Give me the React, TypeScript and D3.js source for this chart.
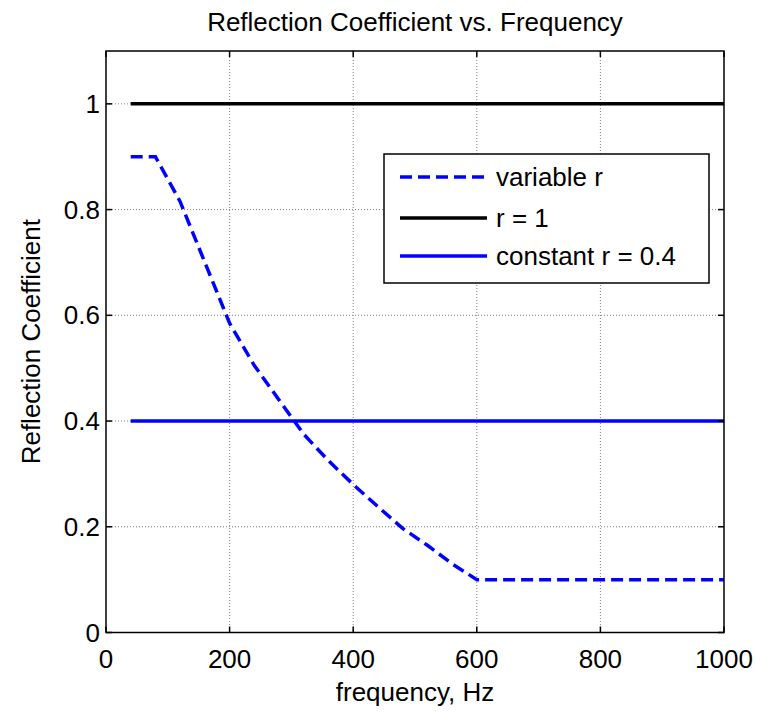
import React, { useEffect, useRef } from "react";
import * as d3 from "d3";

const freqs = [40, 80, 120, 160, 200, 240, 280, 320, 360, 400, 440, 480, 520, 560, 600, 640, 680, 720, 760, 800, 840, 880, 920, 960, 1000];
const variableR = [0.9, 0.9, 0.815, 0.70, 0.585, 0.505, 0.44, 0.375, 0.325, 0.28, 0.238, 0.197, 0.165, 0.13, 0.1, 0.1, 0.1, 0.1, 0.1, 0.1, 0.1, 0.1, 0.1, 0.1, 0.1];
const rOne = freqs.map(() => 1);
const constantR = freqs.map(() => 0.4);
const xTicks = [0, 200, 400, 600, 800, 1000];
const yTicks = [0, 0.2, 0.4, 0.6, 0.8, 1];
const legendLabels = ["variable r", "r = 1", "constant r = 0.4"];

const W = 757, H = 715;
const m = { left: 106, right: 724, top: 51, bottom: 632.5 };
const FONT = "'Liberation Sans', Arial, sans-serif";

export default function App() {
  const ref = useRef<SVGSVGElement>(null);
  useEffect(() => {
    const svg = d3.select(ref.current);
    svg.selectAll("*").remove();
    const x = d3.scaleLinear().domain([0, 1000]).range([m.left, m.right]);
    const y = d3.scaleLinear().domain([0, 1.1]).range([m.bottom, m.top]);

    svg.append("rect").attr("width", W).attr("height", H).attr("fill", "#fff");

    // grid
    const g = svg.append("g");
    xTicks.slice(1, -1).forEach((t) => {
      g.append("line").attr("x1", x(t)).attr("x2", x(t)).attr("y1", m.top).attr("y2", m.bottom)
        .attr("stroke", "#808080").attr("stroke-width", 1).attr("stroke-dasharray", "1,2");
    });
    yTicks.slice(1).forEach((t) => {
      g.append("line").attr("y1", y(t)).attr("y2", y(t)).attr("x1", m.left).attr("x2", m.right)
        .attr("stroke", "#808080").attr("stroke-width", 1).attr("stroke-dasharray", "1,2");
    });

    const line = d3.line<[number, number]>().x((d) => x(d[0])).y((d) => y(d[1]));
    const mk = (vals: number[]) => freqs.map((f, i) => [f, vals[i]] as [number, number]);

    svg.append("path").attr("d", line(mk(rOne))!).attr("fill", "none").attr("stroke", "#000").attr("stroke-width", 3.5);
    svg.append("path").attr("d", line(mk(constantR))!).attr("fill", "none").attr("stroke", "#0000ff").attr("stroke-width", 3.5);
    svg.append("path").attr("d", line(mk(variableR))!).attr("fill", "none").attr("stroke", "#0000ff").attr("stroke-width", 3.5)
      .attr("stroke-dasharray", "12,6");

    // axes box
    svg.append("rect").attr("x", m.left).attr("y", m.top).attr("width", m.right - m.left).attr("height", m.bottom - m.top)
      .attr("fill", "none").attr("stroke", "#000").attr("stroke-width", 1.5);

    // ticks
    const tl = 6;
    xTicks.forEach((t) => {
      svg.append("line").attr("x1", x(t)).attr("x2", x(t)).attr("y1", m.bottom).attr("y2", m.bottom - tl).attr("stroke", "#000").attr("stroke-width", 1.5);
      svg.append("line").attr("x1", x(t)).attr("x2", x(t)).attr("y1", m.top).attr("y2", m.top + tl).attr("stroke", "#000").attr("stroke-width", 1.5);
      svg.append("text").attr("x", x(t)).attr("y", 668).attr("text-anchor", "middle")
        .attr("font-family", FONT).attr("font-size", 26).text(String(t));
    });
    yTicks.forEach((t) => {
      svg.append("line").attr("y1", y(t)).attr("y2", y(t)).attr("x1", m.left).attr("x2", m.left + tl).attr("stroke", "#000").attr("stroke-width", 1.5);
      svg.append("line").attr("y1", y(t)).attr("y2", y(t)).attr("x1", m.right).attr("x2", m.right - tl).attr("stroke", "#000").attr("stroke-width", 1.5);
      svg.append("text").attr("x", 100).attr("y", y(t) + 9).attr("text-anchor", "end")
        .attr("font-family", FONT).attr("font-size", 26).text(String(t));
    });

    // labels
    svg.append("text").attr("x", (m.left + m.right) / 2).attr("y", 31).attr("text-anchor", "middle")
      .attr("font-family", FONT).attr("font-size", 26).text("Reflection Coefficient vs. Frequency");
    svg.append("text").attr("x", (m.left + m.right) / 2).attr("y", 701).attr("text-anchor", "middle")
      .attr("font-family", FONT).attr("font-size", 26).text("frequency, Hz");
    svg.append("text").attr("transform", `translate(40, ${(m.top + m.bottom) / 2}) rotate(-90)`).attr("text-anchor", "middle")
      .attr("font-family", FONT).attr("font-size", 26).text("Reflection Coefficient");

    // legend
    const lg = svg.append("g");
    lg.append("rect").attr("x", 384).attr("y", 154).attr("width", 325).attr("height", 129)
      .attr("fill", "#fff").attr("stroke", "#000").attr("stroke-width", 1.5);
    const ys = [177, 218, 256];
    const styles = [
      { c: "#0000ff", d: "12,6" },
      { c: "#000", d: null },
      { c: "#0000ff", d: null },
    ];
    legendLabels.forEach((lab, i) => {
      const l = lg.append("line").attr("x1", 400).attr("x2", 487).attr("y1", ys[i]).attr("y2", ys[i])
        .attr("stroke", styles[i].c).attr("stroke-width", 3.5);
      if (styles[i].d) l.attr("stroke-dasharray", styles[i].d);
      lg.append("text").attr("x", 496).attr("y", ys[i] + 9).attr("font-family", FONT).attr("font-size", 26).text(lab);
    });
  }, []);
  return <svg ref={ref} width={W} height={H} style={{ position: "absolute", left: 0, top: 0 }} />;
}
